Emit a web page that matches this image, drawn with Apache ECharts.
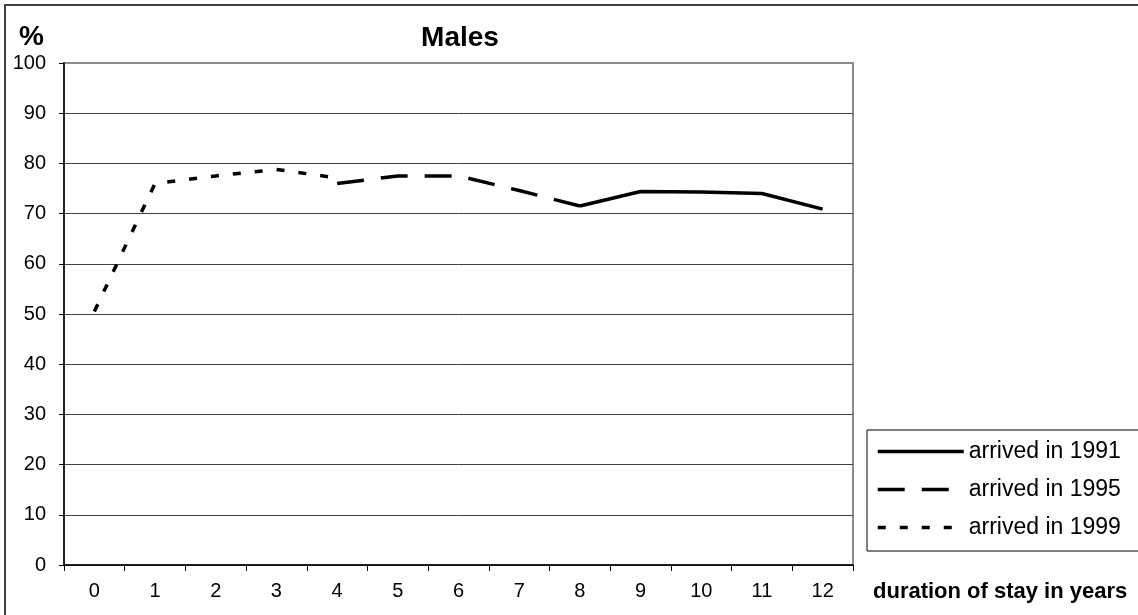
<!DOCTYPE html>
<html>
<head>
<meta charset="utf-8">
<script src="https://cdn.jsdelivr.net/npm/echarts@6/dist/echarts.min.js"></script>
<style>
  html, body { margin: 0; padding: 0; background: #fff; }
  #chart { width: 1138px; height: 615px; }
</style>
</head>
<body>
<div id="chart"></div>
<script>
// Duration of stay (years) on the category axis
const durations = ['0', '1', '2', '3', '4', '5', '6', '7', '8', '9', '10', '11', '12'];

// Share of males (%) by arrival cohort; null where the cohort has no observation
const arrived1991 = [null, null, null, null, null, null, null, null, 71.5, 74.4, 74.3, 74.0, 70.9];
const arrived1995 = [null, null, null, null, 76.0, 77.5, 77.5, 74.6, 71.5, null, null, null, null];
const arrived1999 = [50.5, 76.0, 77.5, 78.8, 77.1, null, null, null, null, null, null, null, null];

const seriesNames = ['arrived in 1991', 'arrived in 1995', 'arrived in 1999'];

const FONT = '"Liberation Sans", Arial, sans-serif';

// Horizontal gridlines: dark inside the plot, grey at the top edge (100)
const gridColors = ['#404040', '#404040', '#404040', '#404040', '#404040', '#404040',
                    '#404040', '#404040', '#404040', '#404040', '#8c8c8c'];

const chart = echarts.init(document.getElementById('chart'), null, { renderer: 'canvas' });

chart.setOption({
  animation: false,
  backgroundColor: '#ffffff',
  textStyle: { fontFamily: FONT, color: '#000' },
  title: {
    text: 'Males',
    left: 455,
    textAlign: 'center',
    top: 19,
    textStyle: { fontFamily: FONT, fontSize: 28, fontWeight: 'bold', color: '#000' }
  },
  graphic: [
    {
      type: 'rect',
      silent: true,
      z: -1,
      shape: { x: 5, y: 5, width: 1300, height: 800 },
      style: { fill: 'none', stroke: '#404040', lineWidth: 2 }
    }
  ],
  grid: {
    left: 64,
    right: 285,
    top: 63,
    bottom: 50,
    show: true,
    borderColor: '#8c8c8c',
    borderWidth: 2,
    backgroundColor: 'transparent'
  },
  legend: {
    orient: 'vertical',
    left: 867,
    top: 430,
    padding: [10, 80, 12, 9],
    itemGap: 15,
    itemWidth: 86,
    itemHeight: 14,
    borderColor: '#000',
    borderWidth: 1,
    backgroundColor: '#fff',
    itemStyle: { opacity: 0 },
    lineStyle: { width: 3.5 },
    textStyle: { fontFamily: FONT, fontSize: 23, color: '#000' },
    data: seriesNames
  },
  xAxis: {
    type: 'category',
    data: durations,
    boundaryGap: true,
    name: 'duration of stay in years',
    nameLocation: 'end',
    nameGap: 20,
    nameTextStyle: {
      fontFamily: FONT, fontSize: 22, fontWeight: 'bold', color: '#000',
      align: 'left', verticalAlign: 'top', padding: [16, 0, 0, 0]
    },
    axisLine: { onZero: false, lineStyle: { color: '#000', width: 1.5 } },
    axisTick: { show: true, inside: false, length: 6, alignWithLabel: false,
                lineStyle: { color: '#000', width: 1 } },
    axisLabel: { fontFamily: FONT, fontSize: 20, color: '#000', margin: 16 },
    splitLine: { show: false }
  },
  yAxis: {
    type: 'value',
    min: 0,
    max: 100,
    interval: 10,
    name: '%',
    nameLocation: 'end',
    nameGap: 12,
    nameTextStyle: {
      fontFamily: FONT, fontSize: 28, fontWeight: 'bold', color: '#000',
      align: 'right', verticalAlign: 'bottom', padding: [0, 20, 0, 0]
    },
    axisLine: { show: true, lineStyle: { color: '#000', width: 1.5 } },
    axisTick: { show: true, inside: false, length: 5, lineStyle: { color: '#000', width: 1 } },
    axisLabel: { fontFamily: FONT, fontSize: 20, color: '#000', margin: 18 },
    splitLine: { show: true, lineStyle: { color: gridColors, width: 1 } }
  },
  series: [
    {
      name: seriesNames[0],
      type: 'line',
      data: arrived1991,
      symbol: 'none',
      connectNulls: false,
      color: '#000',
      lineStyle: { color: '#000', width: 3.5, type: 'solid', cap: 'butt' }
    },
    {
      name: seriesNames[1],
      type: 'line',
      data: arrived1995,
      symbol: 'none',
      connectNulls: false,
      color: '#000',
      lineStyle: { color: '#000', width: 3.5, type: [27, 17], cap: 'butt' }
    },
    {
      name: seriesNames[2],
      type: 'line',
      data: arrived1999,
      symbol: 'none',
      connectNulls: false,
      color: '#000',
      lineStyle: { color: '#000', width: 3.5, type: [8, 14], cap: 'butt' }
    }
  ]
});
</script>
</body>
</html>
